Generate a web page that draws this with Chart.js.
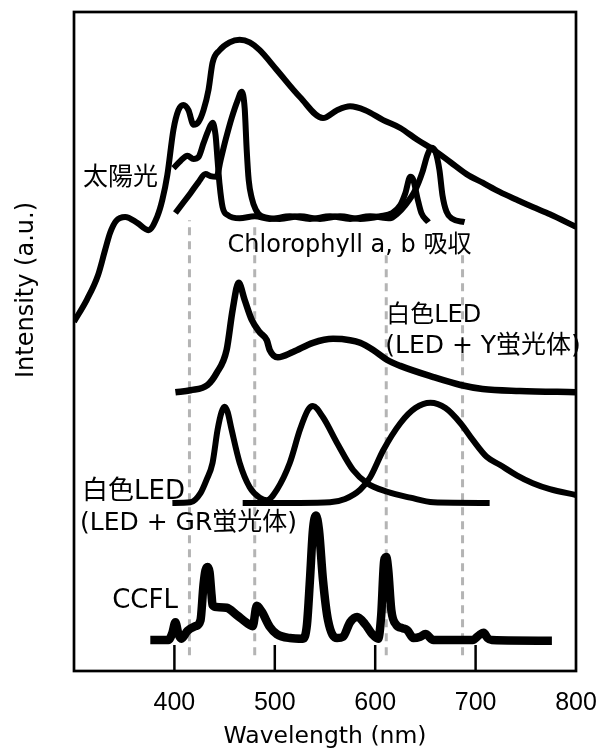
<!DOCTYPE html>
<html>
<head>
<meta charset="utf-8">
<script src="https://cdn.jsdelivr.net/npm/chart.js@4.4.1/dist/chart.umd.min.js"></script>
<style>
  html, body { margin: 0; padding: 0; background: #fff; }
  #wrap { width: 603px; height: 749px; }
</style>
</head>
<body>
<div id="wrap"><canvas id="spectra"></canvas></div>
<script>
// Wavelength ticks (nm)
const xTicks = [400, 500, 600, 700, 800];

// 太陽光
const sunNm  = [300, 313, 324, 331, 336, 342, 351, 363, 374, 383, 388, 393, 399, 404, 409, 414, 419, 424, 429, 434, 438, 445, 455, 465, 475, 485, 502, 525, 548, 562, 575, 590, 608, 625, 642, 658, 675, 691, 707, 724, 741, 757, 774, 800];
const sunVal = [53.0, 56.4, 60.1, 63.9, 66.5, 68.3, 68.9, 68.0, 66.9, 69.0, 71.5, 75.3, 82.1, 85.1, 85.9, 85.1, 82.9, 83.3, 85.1, 88.2, 92.3, 94.2, 95.4, 95.8, 95.4, 94.2, 91.2, 87.1, 83.9, 85.1, 85.7, 85.1, 83.6, 82.4, 80.6, 79.1, 77.2, 75.4, 74.1, 72.7, 71.5, 70.4, 69.3, 67.4];

// Chlorophyll a
const chlANm  = [399, 406, 413, 419, 424, 429, 434, 438, 441, 443, 445, 448, 453, 465, 480, 495, 515, 535, 555, 575, 595, 615, 622, 630, 640, 647, 652, 656, 660, 664, 667, 671, 677, 689];
const chlAVal = [76.3, 77.4, 78.2, 77.7, 78.0, 80.1, 82.1, 83.2, 81.3, 77.5, 73.8, 70.4, 69.2, 68.7, 69.0, 68.6, 69.0, 68.6, 69.0, 68.6, 69.0, 68.7, 69.4, 70.7, 73.0, 75.7, 78.3, 79.4, 78.8, 76.0, 72.2, 69.7, 68.6, 68.1];

// Chlorophyll b
const chlBNm  = [401, 408, 416, 424, 431, 436, 442, 446, 451, 457, 463, 467, 470, 472, 474, 477, 481, 487, 505, 525, 545, 565, 585, 605, 617, 625, 630, 635, 638, 642, 646, 653];
const chlBVal = [69.5, 70.9, 72.5, 74.2, 75.4, 75.1, 75.0, 77.5, 80.6, 83.9, 86.6, 87.9, 85.4, 79.1, 74.5, 71.8, 70.0, 69.0, 68.6, 69.0, 68.6, 69.0, 68.6, 69.0, 69.5, 70.7, 72.5, 75.0, 74.5, 71.8, 69.5, 68.1];

// 白色LED (LED + Y蛍光体)
const yLedNm  = [401, 416, 433, 442, 452, 458, 464, 470, 477, 485, 492, 495, 503, 518, 538, 558, 575, 585, 598, 612, 625, 658, 685, 707, 744, 800];
const yLedVal = [42.3, 42.6, 43.4, 45.2, 48.7, 54.8, 58.9, 56.3, 53.3, 51.4, 50.2, 48.7, 47.6, 48.4, 49.8, 50.4, 50.2, 49.8, 48.7, 47.2, 46.3, 44.6, 43.4, 42.8, 42.5, 42.3];

// 白色LED (LED + GR蛍光体): blue LED + green phosphor, red phosphor
const grGNm  = [398, 416, 426, 432, 438, 443, 447, 450, 453, 457, 465, 475, 485, 492, 502, 515, 525, 533, 538, 548, 562, 578, 592, 612, 635, 658, 714];
const grGVal = [25.5, 25.6, 27.0, 29.0, 31.6, 36.6, 39.3, 40.1, 39.3, 36.6, 31.6, 27.9, 26.3, 25.9, 27.5, 31.6, 36.6, 39.6, 40.2, 38.5, 34.6, 30.5, 28.5, 27.2, 26.3, 25.6, 25.5];
const grRNm  = [468, 525, 555, 570, 585, 595, 608, 625, 640, 655, 670, 685, 697, 711, 724, 741, 757, 774, 800];
const grRVal = [25.5, 25.5, 25.6, 26.1, 27.5, 29.4, 33.5, 37.6, 39.9, 40.7, 39.9, 37.6, 35.1, 32.5, 31.3, 29.7, 28.5, 27.6, 26.7];

// CCFL
const ccflNm  = [376, 394, 398, 401, 404, 407, 413, 421, 426, 429, 431, 433, 435, 437, 438, 442, 452, 462, 475, 478, 482, 487, 495, 502, 515, 528, 532, 535, 538, 541, 544, 548, 553, 562, 568, 575, 582, 590, 597, 603, 606, 609, 611, 613, 616, 621, 627, 632, 638, 645, 650, 658, 697, 704, 708, 712, 716, 776];
const ccflVal = [4.7, 4.7, 5.8, 7.4, 5.6, 4.9, 6.1, 6.8, 7.7, 13.1, 15.3, 15.8, 15.0, 11.5, 10.0, 9.7, 9.6, 8.5, 7.0, 6.8, 9.9, 9.0, 6.7, 5.6, 5.0, 4.9, 7.0, 13.8, 21.4, 23.6, 21.4, 13.8, 7.7, 5.0, 5.2, 7.4, 8.2, 7.1, 5.6, 4.9, 8.5, 16.8, 17.3, 15.3, 9.3, 7.0, 6.5, 6.2, 5.0, 5.2, 5.6, 4.7, 4.7, 5.5, 5.8, 5.0, 4.7, 4.6];

// Dashed guide lines
const dashNm = [415, 480, 611, 687];
const dashTop = [68.4, 67.4, 63.1, 63.1];
const dashBottom = 2.4;

const labelFont = '"DejaVu Sans", "Noto Sans CJK JP", sans-serif';

// In-plot annotations
const notes = [
    { text: '太陽光', nm: 309, val: 73.7, size: 25 },
    { text: 'Chlorophyll a, b 吸収', nm: 453, val: 63.6, size: 24 },
    { text: '白色LED', nm: 611, val: 53.0, size: 24 },
    { text: '(LED + Y蛍光体)', nm: 610, val: 48.3, size: 25 },
    { text: '白色LED', nm: 308, val: 26.1, size: 26 },
    { text: '(LED + GR蛍光体)', nm: 306, val: 21.4, size: 25 },
    { text: 'CCFL', nm: 338, val: 9.6, size: 26 }
];

function toPoints(xs, ys) {
    return xs.map((x, i) => ({ x: x, y: ys[i] }));
}

function curve(xs, ys, width) {
    return {
        data: toPoints(xs, ys),
        borderColor: '#000',
        borderWidth: width,
        borderJoinStyle: 'round',
        cubicInterpolationMode: 'monotone',
        pointRadius: 0,
        fill: false
    };
}

const datasets = [
    curve(sunNm, sunVal, 6),
    curve(chlANm, chlAVal, 6),
    curve(chlBNm, chlBVal, 6),
    curve(yLedNm, yLedVal, 6.5),
    curve(grGNm, grGVal, 6),
    curve(grRNm, grRVal, 6),
    curve(ccflNm, ccflVal, 8.5)
];

dashNm.forEach((nm, i) => {
    datasets.push({
        data: [{ x: nm, y: dashBottom }, { x: nm, y: dashTop[i] }],
        borderColor: '#b4b4b4',
        borderWidth: 3,
        borderDash: [8, 6],
        pointRadius: 0,
        order: 1
    });
});

// Frame, inside ticks, y title and annotations
const decorations = {
    id: 'decorations',
    afterDatasetsDraw(chart) {
        const { ctx, chartArea: a, scales: { x, y } } = chart;
        ctx.save();
        ctx.strokeStyle = '#000';
        ctx.lineWidth = 2.7;
        ctx.strokeRect(a.left, a.top, a.right - a.left, a.bottom - a.top);

        ctx.lineWidth = 2.5;
        xTicks.forEach(v => {
            if (v >= x.max) return;
            const px = x.getPixelForValue(v);
            ctx.beginPath();
            ctx.moveTo(px, a.bottom - 26);
            ctx.lineTo(px, a.bottom);
            ctx.stroke();
        });

        ctx.fillStyle = '#000';
        ctx.textBaseline = 'alphabetic';
        ctx.textAlign = 'left';
        notes.forEach(n => {
            ctx.font = n.size + 'px ' + labelFont;
            ctx.fillText(n.text, x.getPixelForValue(n.nm), y.getPixelForValue(n.val));
        });

        ctx.translate(33, 290);
        ctx.rotate(-Math.PI / 2);
        ctx.textAlign = 'center';
        ctx.font = '24px ' + labelFont;
        ctx.fillText('Intensity (a.u.)', 0, 0);
        ctx.restore();
    }
};

new Chart(document.getElementById('spectra'), {
    type: 'line',
    data: { datasets: datasets },
    options: {
        responsive: true,
        maintainAspectRatio: false,
        animation: false,
        layout: { padding: { left: 74, right: 27, top: 12, bottom: 0 } },
        plugins: {
            legend: { display: false },
            tooltip: { enabled: false }
        },
        scales: {
            x: {
                type: 'linear',
                min: 300,
                max: 800,
                afterBuildTicks: scale => {
                    scale.ticks = xTicks.map(v => ({ value: v }));
                },
                afterFit: scale => {
                    scale.height = 78;
                    scale.paddingLeft = 0;
                    scale.paddingRight = 0;
                },
                grid: { display: false, drawTicks: false },
                border: { display: false },
                ticks: {
                    padding: 17,
                    color: '#000',
                    font: { family: '"Liberation Sans", Arial, sans-serif', size: 25 },
                    callback: v => String(v),
                    maxRotation: 0
                },
                title: {
                    display: true,
                    text: 'Wavelength (nm)',
                    color: '#000',
                    padding: 0,
                    font: { family: labelFont, size: 23.5, lineHeight: 1.0 }
                }
            },
            y: {
                display: false,
                min: 0,
                max: 100
            }
        }
    },
    plugins: [decorations]
});
</script>
</body>
</html>
